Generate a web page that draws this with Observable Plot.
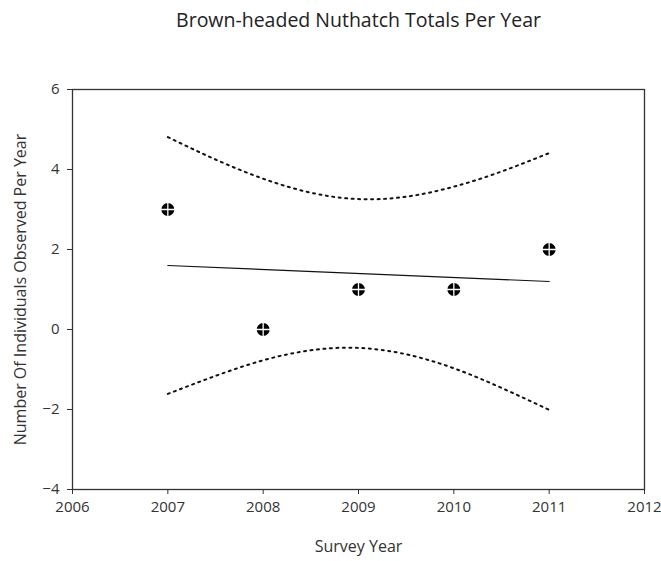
<!DOCTYPE html>
<html><head><meta charset="utf-8">
<script src="https://cdn.jsdelivr.net/npm/d3@7"></script>
<script src="https://cdn.jsdelivr.net/npm/@observablehq/plot@0.6"></script>
<style>
body{margin:0;background:#fff;font-family:"Open Sans",sans-serif;}
#title{height:40px;width:661px;text-align:center;font-size:19.5px;color:#222;line-height:40px;padding-left:56px;box-sizing:border-box;}
svg{display:block;overflow:visible;}
</style></head><body>
<div id="title">Brown-headed Nuthatch Totals Per Year</div>
<div id="chart"></div>
<script>
const years = [2007, 2008, 2009, 2010, 2011];
const totals = [3, 0, 1, 1, 2];
const fitYears = [2007, 2011];
const fitValues = [1.6, 1.2];
const bandYears = [2007, 2007.5, 2008, 2008.5, 2009, 2009.5, 2010, 2010.5, 2011];
const bandUpper = [4.81, 4.25, 3.77, 3.42, 3.26, 3.32, 3.57, 3.95, 4.41];
const bandLower = [-1.61, -1.16, -0.77, -0.52, -0.46, -0.62, -0.97, -1.46, -2.01];
const xTicks = [2006, 2007, 2008, 2009, 2010, 2011, 2012];
const yTicks = [-4, -2, 0, 2, 4, 6];

const pts = years.map((x, i) => ({x, y: totals[i]}));
const fit = fitYears.map((x, i) => ({x, y: fitValues[i]}));
const up = bandYears.map((x, i) => ({x, y: bandUpper[i]}));
const lo = bandYears.map((x, i) => ({x, y: bandLower[i]}));

const chart = Plot.plot({
  width: 661, height: 521,
  marginLeft: 72, marginRight: 17, marginTop: 49, marginBottom: 72,
  style: {fontFamily: "Open Sans, sans-serif", fontSize: "16px", color: "#333", background: "#fff", overflow: "visible"},
  x: {domain: [2006, 2012], ticks: xTicks, tickFormat: d => String(d)},
  y: {domain: [-4, 6], ticks: yTicks},
  marks: [
    Plot.frame({stroke: "#333", strokeWidth: 1.3}),
    Plot.axisX({ticks: xTicks, tickFormat: d => String(d), tickSize: 5, tickPadding: 7, stroke: "#333", fontSize: 15,
      label: null}),
    Plot.axisX({ticks: [], label: "Survey Year", labelAnchor: "center", labelArrow: "none", labelOffset: 62, fontSize: 16}),
    Plot.axisY({ticks: yTicks, tickSize: 5, tickPadding: 8, stroke: "#333", fontSize: 15, label: null}),
    Plot.axisY({ticks: [], label: "Number Of Individuals Observed Per Year", labelAnchor: "center", labelArrow: "none", labelOffset: 58, fontSize: 16}),
    Plot.line(up, {x: "x", y: "y", curve: "natural", stroke: "#111", strokeWidth: 2, strokeDasharray: "2,4.5"}),
    Plot.line(lo, {x: "x", y: "y", curve: "natural", stroke: "#111", strokeWidth: 2, strokeDasharray: "2,4.5"}),
    Plot.line(fit, {x: "x", y: "y", stroke: "#111", strokeWidth: 1.2}),
    Plot.dot(pts, {x: "x", y: "y", r: 6.5, fill: "#000", stroke: "none"}),
    Plot.dot(pts, {x: "x", y: "y", r: 6, symbol: "plus", stroke: "#fff", strokeWidth: 1.3})
  ]
});
document.getElementById("chart").appendChild(chart);
</script>
</body></html>
